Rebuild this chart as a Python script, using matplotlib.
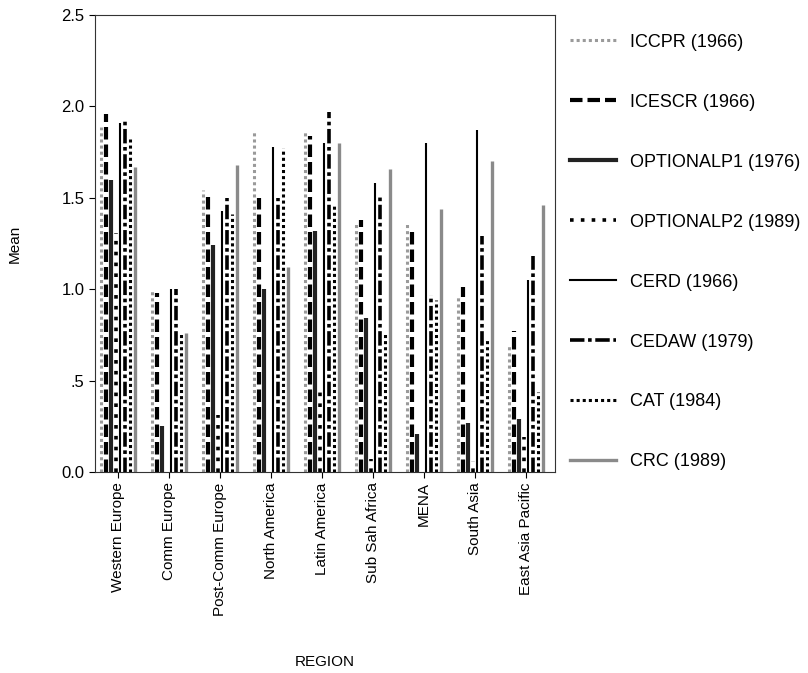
import matplotlib
matplotlib.use("Agg")
import matplotlib.pyplot as plt
import numpy as np
from matplotlib.lines import Line2D

plt.rcParams['font.family'] = ['Liberation Sans', 'DejaVu Sans']

regions = ["Western Europe", "Comm Europe", "Post-Comm Europe", "North America",
           "Latin America", "Sub Sah Africa", "MENA", "South Asia", "East Asia Pacific"]

series_names = ["ICCPR (1966)", "ICESCR (1966)", "OPTIONALP1 (1976)", "OPTIONALP2 (1989)",
                "CERD (1966)", "CEDAW (1979)", "CAT (1984)", "CRC (1989)"]

iccpr = [1.89, 1.00, 1.54, 1.87, 1.87, 1.37, 1.37, 0.97, 0.70]
icescr = [1.96, 0.98, 1.53, 1.50, 1.84, 1.38, 1.34, 1.01, 0.77]
optp1 = [1.60, 0.25, 1.24, 1.00, 1.32, 0.84, 0.21, 0.27, 0.29]
optp2 = [1.31, 0.00, 0.31, 0.00, 0.46, 0.07, 0.00, 0.06, 0.19]
cerd = [1.91, 1.00, 1.43, 1.78, 1.80, 1.58, 1.80, 1.87, 1.05]
cedaw = [1.93, 1.00, 1.50, 1.50, 1.97, 1.52, 0.97, 1.29, 1.18]
cat = [1.82, 0.76, 1.41, 1.77, 1.46, 0.76, 0.94, 0.73, 0.44]
crc = [1.67, 0.76, 1.68, 1.12, 1.80, 1.66, 1.44, 1.70, 1.46]

all_series = [iccpr, icescr, optp1, optp2, cerd, cedaw, cat, crc]

styles = [
    dict(color="#9a9a9a", linestyle=(0, (1, 1)), linewidth=2.2),
    dict(color="black", linestyle=(0, (3, 1.2)), linewidth=3.0),
    dict(color="#222222", linestyle="-", linewidth=3.0),
    dict(color="black", linestyle=(0, (1, 2)), linewidth=2.6),
    dict(color="black", linestyle="-", linewidth=1.5),
    dict(color="black", linestyle=(0, (4, 1, 1, 1)), linewidth=2.6),
    dict(color="black", linestyle=(0, (1, 1)), linewidth=2.2),
    dict(color="#8a8a8a", linestyle="-", linewidth=2.4),
]

fig = plt.figure(figsize=(8.08, 6.73), dpi=100)
ax = fig.add_axes([0.1176, 0.2987, 0.5694, 0.6790])

x = np.arange(len(regions))
step = 0.095
for i, (vals, st) in enumerate(zip(all_series, styles)):
    xs = x + (i - 3.5) * step
    ax.vlines(xs, 0, vals, colors=st["color"], linestyles=[st["linestyle"]],
              linewidth=st["linewidth"], label=series_names[i])

ax.set_xlim(-0.45, 8.57)
ax.set_ylim(0, 2.5)
ax.set_yticks([0, 0.5, 1.0, 1.5, 2.0, 2.5])
ax.set_yticklabels(["0.0", ".5", "1.0", "1.5", "2.0", "2.5"], fontsize=12)
ax.set_xticks(x)
ax.set_xticklabels(regions, rotation=90, fontsize=11)
ax.tick_params(axis='both', direction='out', length=4, width=0.8)
ax.set_ylabel("Mean", fontsize=11)
ax.yaxis.set_label_coords(-0.16, 0.5)
ax.set_xlabel("REGION", fontsize=11)
ax.xaxis.set_label_coords(0.5, -0.40)
for sp in ax.spines.values():
    sp.set_linewidth(0.8)
    sp.set_color("#333333")

leg_handles = [Line2D([0], [0], color=st["color"], linestyle=st["linestyle"],
                      linewidth=st["linewidth"]) for st in styles]
fig.legend(leg_handles, series_names, loc="upper left",
           bbox_to_anchor=(0.706, 0.950), frameon=False, fontsize=13,
           handlelength=2.5, handletextpad=0.8, labelspacing=2.38,
           borderaxespad=0, borderpad=0)

fig.savefig("out.png", dpi=100)
